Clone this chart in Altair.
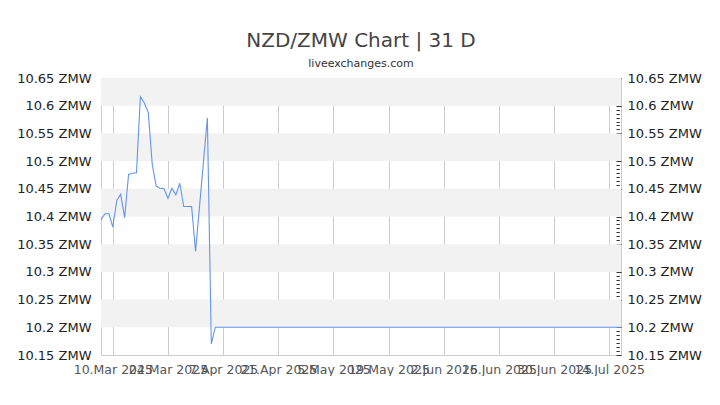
import altair as alt
import pandas as pd

# ---- data ----
dates = [
    "2025-03-07", "2025-03-08", "2025-03-09", "2025-03-10", "2025-03-11",
    "2025-03-12", "2025-03-13", "2025-03-14", "2025-03-15", "2025-03-16",
    "2025-03-17", "2025-03-18", "2025-03-19", "2025-03-20", "2025-03-21",
    "2025-03-22", "2025-03-23", "2025-03-24", "2025-03-25", "2025-03-26",
    "2025-03-27", "2025-03-28", "2025-03-29", "2025-03-30", "2025-03-31",
    "2025-04-03", "2025-04-04", "2025-04-05", "2025-07-17",
]
rates = [
    10.394, 10.405, 10.405, 10.381, 10.429,
    10.440, 10.398, 10.476, 10.478, 10.479,
    10.616, 10.605, 10.588, 10.495, 10.455,
    10.451, 10.450, 10.433, 10.451, 10.439,
    10.460, 10.418, 10.418, 10.418, 10.337,
    10.578, 10.170, 10.200, 10.200,
]
band_lo = [10.20, 10.30, 10.40, 10.50, 10.60]
band_hi = [10.25, 10.35, 10.45, 10.55, 10.65]
y_major = [10.15, 10.20, 10.25, 10.30, 10.35, 10.40, 10.45, 10.50, 10.55, 10.60, 10.65]
y_minor = [round(10.15 + k * 0.05 / 7, 5) for k in range(71)]
x_ticks = [(3, 10), (3, 24), (4, 7), (4, 21), (5, 5), (5, 19), (6, 2), (6, 16), (6, 30), (7, 14)]

df = pd.DataFrame({"date": dates, "rate": rates})
bands = pd.DataFrame({"lo": band_lo, "hi": band_hi})

FONT = "DejaVu Sans"
W, H = 520, 277

xscale = alt.Scale(
    type="utc",
    domain=[alt.DateTime(year=2025, month=3, date=7, utc=True),
            alt.DateTime(year=2025, month=7, date=17, utc=True)],
)
yscale = alt.Scale(domain=[10.15, 10.65], nice=False, zero=False)

major_test = "abs(datum.value*20 - round(datum.value*20)) < 0.0001"
label_expr = f"({major_test}) ? (toString(round(datum.value*100)/100) + ' ZMW') : ''"

band_layer = alt.Chart(bands).mark_rect(color="#f2f2f2").encode(
    x=alt.value(0),
    x2=alt.value("width"),
    y=alt.Y("lo:Q", scale=yscale, axis=alt.Axis(
        values=y_major, labelExpr=label_expr, ticks=False, domain=False, grid=False,
        labelPadding=10, labelFontSize=13, labelColor="#222", labelFont=FONT,
        minExtent=93, maxExtent=93, title=None)),
    y2="hi:Q",
)

line_layer = alt.Chart(df).mark_line(color="#6495ED", strokeWidth=1.1).encode(
    x=alt.X("date:T", scale=xscale, axis=alt.Axis(
        values=[alt.DateTime(year=2025, month=m, date=d, utc=True) for m, d in x_ticks],
        labelExpr="utcFormat(datum.value, '%-d.%b %Y')",
        labelOverlap=False, labelFlush=False,
        grid=True, gridColor="#cccccc", ticks=False, domain=False,
        labelPadding=8, labelFontSize=12.5, labelColor="#555", labelFont=FONT, title=None)),
    y=alt.Y("rate:Q", scale=yscale, axis=alt.Axis(
        orient="right", values=y_minor, labelExpr=label_expr, domain=False, grid=False,
        offset=-5, ticks=True, tickColor="#333",
        tickSize={"condition": {"test": major_test, "value": 5}, "value": 3.3},
        labelPadding=6, labelFontSize=13, labelColor="#222", labelFont=FONT,
        title=None)),
)

chart = alt.layer(band_layer, line_layer).resolve_axis(y="independent").properties(
    width=W, height=H,
    padding={"left": 0, "top": 23, "right": 0, "bottom": 0},
    title=alt.TitleParams(
        "NZD/ZMW Chart | 31 D", subtitle="liveexchanges.com",
        font=FONT, fontSize=20, fontWeight="normal", color="#444",
        subtitleFont=FONT, subtitleFontSize=11, subtitleColor="#333",
        anchor="middle", frame="group", offset=3, subtitlePadding=7,
    ),
).configure_view(stroke="#cccccc", strokeWidth=1)

chart.save("out.html", embed_options={"renderer": "svg", "actions": False})
